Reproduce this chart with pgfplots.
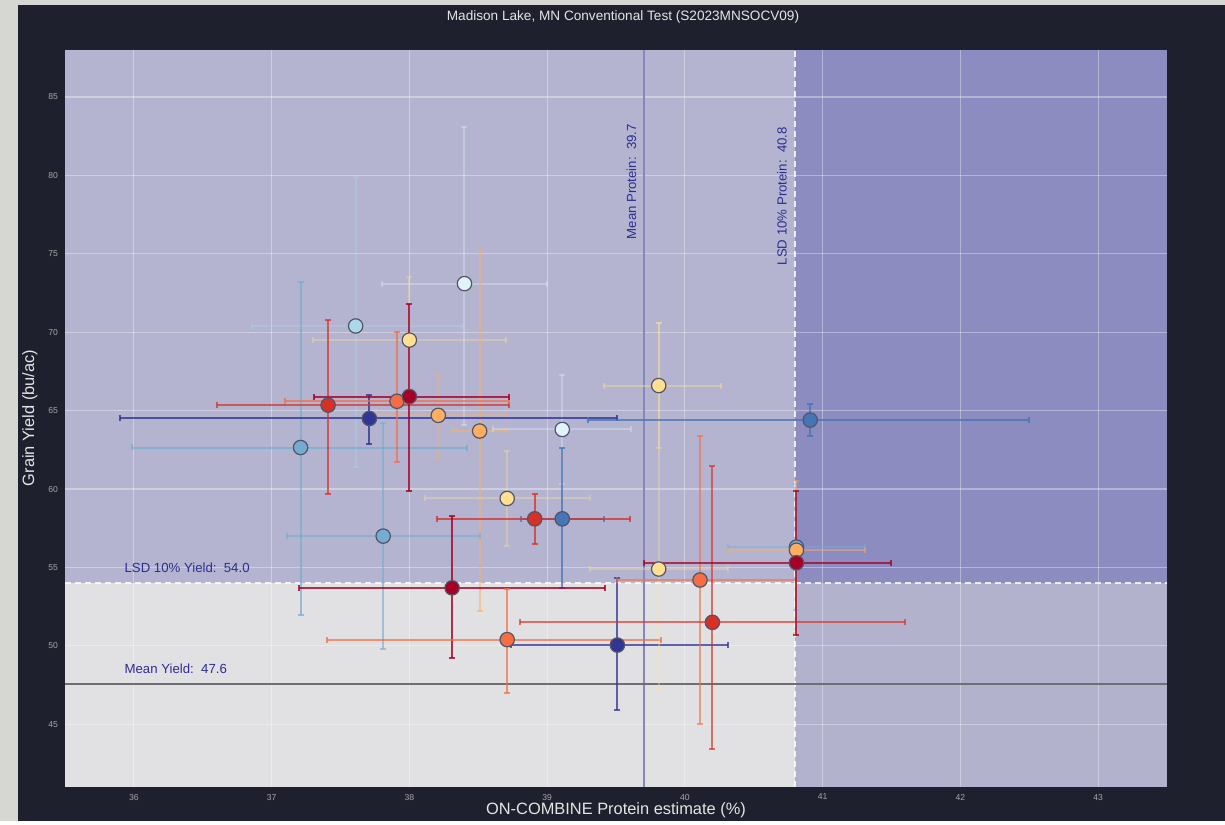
\documentclass[border=0pt]{standalone}
\usepackage{pgfplots}
\pgfplotsset{compat=1.18}
\usepackage{fontspec}
\setmainfont{Liberation Sans}
\definecolor{bgdark}{RGB}{30,33,45}
\definecolor{frame}{RGB}{214,215,210}
\definecolor{regLL}{RGB}{225,225,228}
\definecolor{regUL}{RGB}{180,180,208}
\definecolor{regLR}{RGB}{178,178,205}
\definecolor{regUR}{RGB}{141,140,192}
\definecolor{annot}{RGB}{45,45,145}
\definecolor{meanP}{RGB}{135,135,190}
\definecolor{meanY}{RGB}{110,110,115}
\definecolor{outl}{RGB}{80,85,105}
\definecolor{c1}{HTML}{A50026}
\definecolor{c2}{HTML}{D73027}
\definecolor{c3}{HTML}{F46D43}
\definecolor{c4}{HTML}{FDAE61}
\definecolor{c5}{HTML}{FEE090}
\definecolor{c6}{HTML}{E0F3F8}
\definecolor{c7}{HTML}{ABD9E9}
\definecolor{c8}{HTML}{74ADD1}
\definecolor{c9}{HTML}{4575B4}
\definecolor{c10}{HTML}{313695}
% color, x, y, x-, x+, y-, y+, bar opacity
\newcommand{\mypt}[8]{%
\addplot[only marks, mark=*, mark size=3.6pt,
  mark options={fill=#1, draw=outl, line width=0.6pt},
  error bars/.cd, x dir=both, x explicit, y dir=both, y explicit,
  error bar style={draw=#1, line width=1pt, opacity=#8},
  error mark options={rotate=90, draw=#1, mark size=1.5pt, line width=1pt, opacity=#8}]
  coordinates {(#2,#3) += (#5,#7) -= (#4,#6)};}
\begin{document}
\begin{tikzpicture}
\fill[frame] (0,0) rectangle (612.5pt,410.5pt);
\fill[bgdark] (9pt,0) rectangle (612.5pt,408pt);
\node[text=white!80!gray, font=\fontsize{6.8}{8}\selectfont] at (311.5pt,402pt) {Madison Lake, MN Conventional Test (S2023MNSOCV09)};
\node[text=white!80!gray, font=\fontsize{8.2}{9}\selectfont, rotate=90] at (15pt,201.5pt) {Grain Yield (bu/ac)};
\node[text=white!80!gray, font=\fontsize{8.2}{9}\selectfont] at (308pt,5.5pt) {ON-COMBINE Protein estimate (\%)};
\begin{axis}[at={(32.5pt,17pt)}, anchor=south west, width=551pt, height=368.5pt, scale only axis,
  xmin=35.5, xmax=43.5, ymin=41, ymax=88,
  xtick={36,37,38,39,40,41,42,43}, ytick={45,50,55,60,65,70,75,80,85},
  axis line style={draw=none}, major tick length=0pt,
  ticklabel style={font=\fontsize{4.3}{5}\selectfont, text=gray!70!white},
  /pgf/number format/assume math mode=true,
  clip=true]
\fill[regLL] (axis cs:35.5,41) rectangle (axis cs:40.8,54);
\fill[regUL] (axis cs:35.5,54) rectangle (axis cs:40.8,88);
\fill[regLR] (axis cs:40.8,41) rectangle (axis cs:43.5,54);
\fill[regUR] (axis cs:40.8,54) rectangle (axis cs:43.5,88);
\pgfplotsinvokeforeach{36,37,38,39,40,41,42,43}{\draw[white, opacity=0.35, line width=0.6pt] (axis cs:#1,41) -- (axis cs:#1,88);}
\pgfplotsinvokeforeach{45,50,55,60,65,70,75,80,85}{\draw[white, opacity=0.35, line width=0.6pt] (axis cs:35.5,#1) -- (axis cs:43.5,#1);}
\draw[white, opacity=0.8, line width=0.8pt, dash pattern=on 3pt off 2pt] (axis cs:35.5,54) -- (axis cs:43.5,54);
\draw[white, opacity=0.8, line width=0.8pt, dash pattern=on 3pt off 2pt] (axis cs:40.8,41) -- (axis cs:40.8,88);
\draw[meanP, line width=1pt] (axis cs:39.7,41) -- (axis cs:39.7,88);
\draw[meanY, line width=1pt] (axis cs:35.5,47.6) -- (axis cs:43.5,47.6);
\node[text=annot, font=\fontsize{6.6}{8}\selectfont, rotate=90, anchor=south east, inner sep=0pt] at ([xshift=-3.5pt]axis cs:39.7,83.3) {Mean Protein:\ \ 39.7};
\node[text=annot, font=\fontsize{6.6}{8}\selectfont, rotate=90, anchor=south east, inner sep=0pt] at ([xshift=-4pt]axis cs:40.8,83.1) {LSD 10\% Protein:\ \ 40.8};
\node[text=annot, font=\fontsize{6.6}{8}\selectfont, anchor=west, inner sep=0pt] at ([yshift=7.5pt]axis cs:35.93,54) {LSD 10\% Yield:\ \ 54.0};
\node[text=annot, font=\fontsize{6.6}{8}\selectfont, anchor=west, inner sep=0pt] at ([yshift=7.5pt]axis cs:35.93,47.6) {Mean Yield:\ \ 47.6};
\mypt{c6}{38.40}{73.1}{0.6}{0.6}{9}{10}{0.35}
\mypt{c7}{37.61}{70.4}{0.75}{0.77}{9}{9.5}{0.35}
\mypt{c5}{38.00}{69.5}{0.7}{0.7}{4}{4}{0.35}
\mypt{c5}{39.81}{66.6}{0.4}{0.45}{4}{4}{0.4}
\mypt{c4}{38.21}{64.7}{0.5}{0.5}{2.7}{2.6}{0.4}
\mypt{c4}{38.51}{63.7}{0.2}{0.2}{11.5}{11.5}{0.55}
\mypt{c6}{39.11}{63.8}{0.5}{0.5}{3.5}{3.5}{0.35}
\mypt{c8}{37.21}{62.65}{1.22}{1.21}{10.65}{10.55}{0.7}
\mypt{c10}{37.71}{64.5}{1.81}{1.80}{1.6}{1.5}{0.8}
\mypt{c2}{37.41}{65.35}{0.81}{1.31}{5.65}{5.45}{0.7}
\mypt{c3}{37.91}{65.6}{0.81}{0.81}{3.9}{4.4}{0.7}
\mypt{c1}{38.00}{65.9}{0.69}{0.72}{6.0}{5.9}{0.8}
\mypt{c5}{38.71}{59.4}{0.6}{0.6}{3}{3}{0.35}
\mypt{c9}{39.11}{58.1}{0.3}{0.3}{4.4}{4.5}{0.75}
\mypt{c2}{38.91}{58.1}{0.71}{0.69}{1.6}{1.6}{0.75}
\mypt{c8}{37.81}{57.0}{0.7}{0.7}{7.2}{7.2}{0.6}
\mypt{c1}{38.31}{53.7}{1.11}{1.11}{4.5}{4.6}{0.8}
\mypt{c3}{38.71}{50.4}{1.31}{1.12}{3.4}{3.2}{0.7}
\mypt{c10}{39.51}{50.05}{0.77}{0.8}{4.15}{4.25}{0.75}
\mypt{c5}{39.81}{54.9}{0.5}{0.5}{7.7}{15.7}{0.35}
\mypt{c3}{40.11}{54.2}{0.6}{0.7}{9.2}{9.2}{0.6}
\mypt{c2}{40.20}{51.5}{1.4}{1.4}{8.1}{10.0}{0.65}
\mypt{c9}{40.91}{64.4}{1.61}{1.59}{1.0}{1.0}{0.75}
\mypt{c8}{40.81}{56.3}{0.5}{0.5}{4}{4}{0.4}
\mypt{c4}{40.81}{56.1}{0.5}{0.5}{5.3}{4.4}{0.45}
\mypt{c1}{40.81}{55.3}{1.11}{0.69}{4.6}{4.6}{0.75}
\end{axis}
\end{tikzpicture}
\end{document}
